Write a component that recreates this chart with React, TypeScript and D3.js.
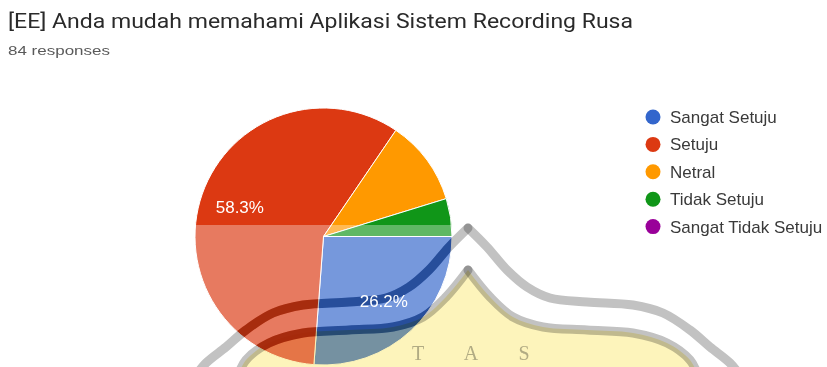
import React from "react";
import * as d3 from "d3";

const categories = ["Sangat Setuju", "Setuju", "Netral", "Tidak Setuju", "Sangat Tidak Setuju"];
const counts = [22, 49, 9, 4, 0];
const sliceColors = ["#3366cc", "#dc3912", "#ff9900", "#109618", "#990099"];
const titleText = "[EE] Anda mudah memahami Aplikasi Sistem Recording Rusa";
const subtitleText = "84 responses";

// decorative watermark (right half of the arches, mirrored)
const outerArchRight: [number, number][] = [[468,228],[487,247],[507,270],[527,287],[550,298],[587,302],[633,305],[663,313],[690,330],[710,347],[730,363],[742,378]];
const innerArchRight: [number, number][] = [[468,270],[490,297],[513,317],[543,327],[587,330],[633,333],[667,343],[690,360],[699,378]];
const watermarkLetters = ["T", "A", "S"];

const W = 827, H = 367;
const cx = 323.5, cy = 236.5, R = 128.5;
const axisX = 468;

export default function App() {
  const total = d3.sum(counts);
  const pie = d3.pie<number>().sort(null).value(d => d).startAngle(Math.PI / 2).endAngle(Math.PI / 2 + 2 * Math.PI);
  const arcs = pie(counts);
  const arcGen = d3.arc<d3.PieArcDatum<number>>().innerRadius(0).outerRadius(R);
  const labelArc = d3.arc<d3.PieArcDatum<number>>().innerRadius(R * 0.69).outerRadius(R * 0.69);
  const fmt = d3.format(".1%");

  const line = d3.line().curve(d3.curveCatmullRom);
  const mirror = (pts: [number, number][]) => pts.map(([x, y]) => [2 * axisX - x, y] as [number, number]).reverse();
  const halfPaths = (right: [number, number][]) => [line(mirror(right)) as string, line(right) as string];
  const outerPaths = halfPaths(outerArchRight);
  const innerPaths = halfPaths(innerArchRight);
  const innerLeft = mirror(innerArchRight);
  const yellowPath =
    (line(innerLeft) as string) +
    (line(innerArchRight) as string).replace(/^M/, "L") +
    `L${innerArchRight[innerArchRight.length - 1][0]},${H + 10}L${innerLeft[0][0]},${H + 10}Z`;

  const legendY0 = 117, legendStep = 27.4;
  const font = "'Liberation Sans', Arial, sans-serif";

  return (
    <svg width={W} height={H} style={{ position: "absolute", left: 0, top: 0, background: "#fff" }} xmlns="http://www.w3.org/2000/svg">
      <defs>
        <mask id="washMask">
          <rect x={0} y={225} width={W} height={H} fill="white" />
          {[...outerPaths, ...innerPaths].map((d, i) => (
            <path key={i} d={d} fill="none" stroke="black" strokeWidth={9} strokeLinecap="round" />
          ))}
        </mask>
      </defs>
      <text x={8} y={28} fontFamily="Roboto, Arial, sans-serif" fontSize={20} fill="#2a2a2a" textLength={625} lengthAdjust="spacingAndGlyphs">{titleText}</text>
      <text x={8} y={55} fontFamily={font} fontSize={13.5} fill="#5a5a5a" textLength={102} lengthAdjust="spacingAndGlyphs">{subtitleText}</text>

      <g transform={`translate(${cx},${cy})`}>
        {arcs.map((a, i) => (
          a.value > 0 ? <path key={i} d={arcGen(a) as string} fill={sliceColors[i]} stroke="#fff" strokeWidth={1} /> : null
        ))}
      </g>

      {/* watermark */}
      <rect x={0} y={225} width={W} height={H} fill="#fff" opacity={0.33} mask="url(#washMask)" />
      <path d={yellowPath} fill="#fdf4bb" style={{ mixBlendMode: "multiply" }} />
      {[...outerPaths, ...innerPaths].map((d, i) => (
        <path key={i} d={d} fill="none" stroke="#c2c2c2" strokeWidth={9} strokeLinecap="round" style={{ mixBlendMode: "multiply" }} />
      ))}
      {watermarkLetters.map((t, i) => (
        <text key={t} x={418 + i * 53} y={360} textAnchor="middle" fontFamily="'Liberation Serif', serif" fontSize={20} fill="#b3b3b3" style={{ mixBlendMode: "multiply" }}>{t}</text>
      ))}

      <g transform={`translate(${cx},${cy})`}>
        {arcs.map((a, i) => {
          if (a.value / total < 0.2) return null;
          const [lx, ly] = labelArc.centroid(a);
          return (
            <text key={i} x={lx} y={ly + 6} textAnchor="middle" fontFamily={font} fontSize={17} fill="#fff">{fmt(a.value / total)}</text>
          );
        })}
      </g>

      {categories.map((c, i) => (
        <g key={c} transform={`translate(0,${legendY0 + i * legendStep})`}>
          <circle cx={653} cy={0} r={7.5} fill={sliceColors[i]} />
          <text x={670} y={6} fontFamily={font} fontSize={17} fill="#3a3a3a">{c}</text>
        </g>
      ))}
    </svg>
  );
}
